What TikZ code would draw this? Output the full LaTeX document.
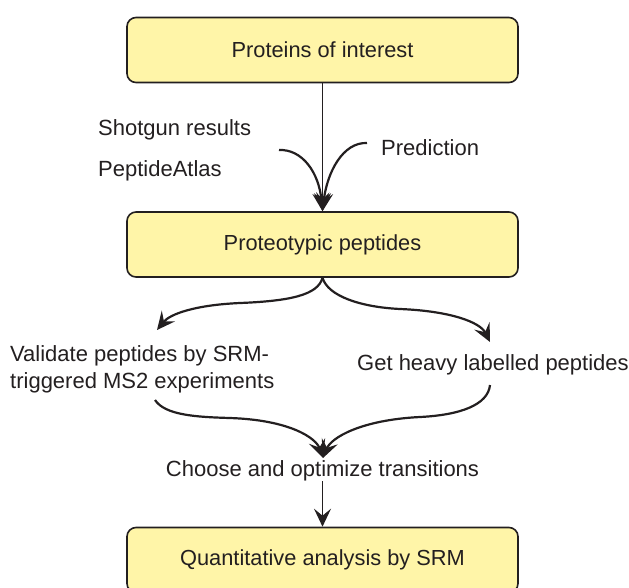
\documentclass[tikz,border=0pt]{standalone}
\usepackage{fontspec}
\setmainfont{Liberation Sans}
\usetikzlibrary{arrows.meta}
\definecolor{boxfill}{RGB}{255,245,168}
\definecolor{ink}{RGB}{35,31,32}
\tikzset{
  box/.style={draw=ink, fill=boxfill, line width=1.6pt, rounded corners=9pt,
    minimum width=391pt, minimum height=65pt, inner sep=0pt,
    font=\fontsize{21.8}{26}\selectfont, text=ink},
  lbl/.style={inner sep=0pt, font=\fontsize{22}{27}\selectfont, text=ink},
  tip/.style={-{Stealth[length=18pt,width=17pt,inset=7pt]}},
  flow/.style={draw=ink, line width=2.2pt, tip},
  thin/.style={draw=ink, line width=1.2pt},
}
\begin{document}
\begin{tikzpicture}[x=1pt,y=-1pt]
\useasboundingbox (0,0) rectangle (629,587);
\node[box] (p1) at (322.5,50) {Proteins of interest};
\node[box] (p2) at (322.5,244.5) {Proteotypic peptides};
\node[box] (p3) at (322.5,560) {Quantitative analysis by SRM};

\node[lbl, anchor=west] (shot) at (98,130) {Shotgun results};
\node[lbl, anchor=west] (atlas) at (98,171) {PeptideAtlas};
\node[lbl, anchor=west] (pred) at (381,148) {Prediction};
\node[lbl, anchor=west, align=left] (val) at (10,369) {Validate peptides by SRM-\\triggered MS2 experiments};
\node[lbl, anchor=west] (heavy) at (357,365) {Get heavy labelled peptides};
\node[lbl] (choose) at (322.5,471) {Choose and optimize transitions};

\coordinate (a1) at (279,150);
\coordinate (a2) at (367,143);
\coordinate (b1) at (157,330);
\coordinate (b2) at (490,342);
\coordinate (c1) at (155,400);
\coordinate (c2) at (490,385);
\coordinate (m) at (323,458);

% top merge
\draw[thin, tip] (p1.south) -- (p2.north);
\draw[flow] (a1) .. controls (302,149) and (319,172) .. (p2.north);
\draw[flow] (a2) .. controls (343,142) and (327,172) .. (p2.north);

% split
\draw[flow] (p2.south) .. controls (318,295) and (290,301) .. (240,303)
  .. controls (195,305) and (170,314) .. (b1);
\draw[flow] (p2.south) .. controls (328,296) and (360,307) .. (400,309)
  .. controls (450,311) and (480,322) .. (b2);

% merge
\draw[flow] (c1) .. controls (165,415) and (195,417) .. (230,418)
  .. controls (290,420) and (316,438) .. (m);
\draw[flow] (c2) .. controls (488,405) and (460,415) .. (420,417)
  .. controls (360,420) and (331,438) .. (m);

\draw[thin, tip] (choose.south) -- (p3.north);
\end{tikzpicture}
\end{document}
